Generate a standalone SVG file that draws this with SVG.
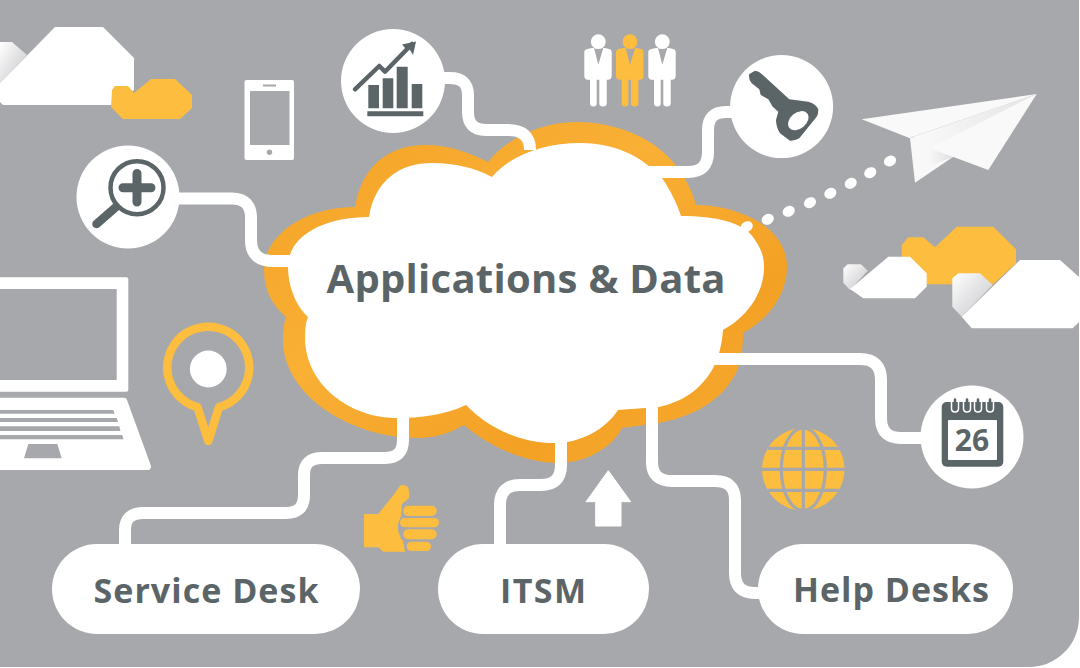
<svg xmlns="http://www.w3.org/2000/svg" xmlns:xlink="http://www.w3.org/1999/xlink" width="1080" height="668" viewBox="0 0 1080 668">
<style>
.w{fill:#fff}.g{fill:#a7a8ab}.y{fill:#fdbd3f}.d{fill:#5b6568}
.c{fill:none;stroke:#fff;stroke-width:12}
.dl{fill:none;stroke:#5b6568;stroke-linecap:round}
.t{font-family:"Open Sans","DejaVu Sans",sans-serif;font-weight:700;fill:#5b6568;text-anchor:middle}
</style>
<defs>
<linearGradient id="og" x1="0" y1="0" x2="1" y2="1"><stop offset="0" stop-color="#f3a125"/><stop offset=".4" stop-color="#f9b035"/><stop offset=".72" stop-color="#f3a125"/><stop offset="1" stop-color="#f8ae33"/></linearGradient>
<linearGradient id="sh" x1="0" y1="0" x2="1" y2="1"><stop offset="0" stop-color="#fff"/><stop offset="1" stop-color="#c4c5c8"/></linearGradient>
<linearGradient id="sh2" x1="0" y1="0" x2="1" y2="0"><stop offset="0" stop-color="#fbfbfb"/><stop offset="1" stop-color="#dedfe1"/></linearGradient>
<g id="person">
<path d="M584.3,52Q584.3,49.7 586.5,49.2L591.7,48H594L598.3,64.7 603.3,48H605L610,49.2Q611.7,49.7 611.7,52V76Q611.7,79.7 608,79.7H606.7V103.5Q606.7,106.5 603,106.5 599.3,106.5 599.3,103.5V79.7H596.7V103.5Q596.7,106.5 593.3,106.5 590,106.5 590,103.5V79.7H588Q584.3,79.7 584.3,76Z"/>
<circle cx="598.3" cy="41.7" r="7.4"/>
</g>
</defs>
<rect width="1080" height="668" class="w"/>
<path class="g" d="M0,0H1079V617A50,50 0 0 1 1029,667H0Z"/>

<g id="cloud-top-left">
<path fill="url(#sh)" d="M0,42H12L27,55 0,83Z"/>
<path class="w" d="M55,27H103L134,58V90L112,105H3L0,102V83Z"/>
<path class="y" d="M112,90 115,86H128L134,93 151,79H175L192,95V108L180,119H123L111,107Z"/>
</g>
<g id="cloud-right">
<path class="y" d="M901.7,245 908.3,237.3H923.3L935,247.3 956.7,226.7H993.3L1016,249.3V263.3L993.3,284.3H925L901.7,255Z"/>
<path fill="url(#sh)" d="M843.3,268.3 847.7,264.3H861L867.7,270.7 850,290 843.3,282.7Z"/>
<path class="w" d="M888.3,256.7H910L926.7,273.3V286.7L915,298.3H863.3L850,289Z"/>
<path fill="url(#sh)" d="M952.3,278.3 958.3,273.3H980L992.7,285 961.7,316.7 952.3,306.7Z"/>
<path class="w" d="M1020,260H1060L1079,277V322L1072.7,328.3H971.7L961.7,316.7Z"/>
</g>

<g id="cloud">
<path fill="url(#og)" d="M355,207C362,165 390,145 425,145C450,145 470,153 488,162C505,140 540,122 576,122C620,122 655,140 674,163C685,177 692,190 696,205C735,205 787,225 787,267C787,295 768,320 743,333C743,345 742,360 736,373C722,400 695,416 659,423L622,428C612,448 585,463 559,463C525,463 490,447 464,425C450,433 435,438 418,438C350,438 283,395 283,340C283,330 284,323 286,317C272,305 264,290 264,270C264,235 305,207 355,207Z"/>
</g>

<g id="connectors">
<path class="c" d="M178,198.5H232Q251,198.5 251,218V240Q251,261 273,261H300"/>
<path class="c" d="M440,78H450Q468,78 468,95V112Q468,130 486,130H508Q530,130 530,150"/>
<path class="c" d="M735,112H726Q708,112 708,130V152Q708,172 688,172H640"/>
<path class="c" d="M715,359H860Q881,359 881,380V418Q881,438 901,438H930"/>
<path class="c" d="M403,410V440Q403,458 385,458H322Q304,458 304,475V495Q304,513 286,513H143Q125,513 125,530V550"/>
<path class="c" d="M561,410V465Q561,485 541,485H520Q500,485 500,505V550"/>
<path class="c" d="M652,400V462Q652,481 672,481H715Q735,481 735,500V573Q735,593 755,593H775"/>
</g>

<g id="cloud-center">
<path class="w" d="M369,217C375,180 400,163 432,163C455,163 475,168 492,177C510,155 545,143 580,143C620,143 645,160 662,178C670,190 677,203 681,216C715,216 745,222 755,240C762,250 764,258 764,267C764,295 745,318 723,330C722,345 718,360 712,370C698,393 680,402 659,407L618,410C605,430 580,443 555,443C520,443 488,428 466,405C445,415 420,418 397,418C350,418 305,385 305,337C305,328 306,322 308,317C295,305 288,285 288,267C288,235 325,217 369,217Z"/>
<text class="t" x="526" y="293" font-size="40" textLength="399" lengthAdjust="spacing">Applications &amp; Data</text>
</g>

<g id="dots" class="w">
<ellipse cx="890" cy="161" rx="6.3" ry="5.2" transform="rotate(-28 890 161)"/>
<ellipse cx="870.3" cy="172.7" rx="6.3" ry="5.2" transform="rotate(-28 870.3 172.7)"/>
<ellipse cx="850.7" cy="183.3" rx="6.3" ry="5.2" transform="rotate(-28 850.7 183.3)"/>
<ellipse cx="830.3" cy="193.3" rx="6.3" ry="5.2" transform="rotate(-28 830.3 193.3)"/>
<ellipse cx="810" cy="202.7" rx="6.3" ry="5.2" transform="rotate(-28 810 202.7)"/>
<ellipse cx="788.7" cy="211.3" rx="6.3" ry="5.2" transform="rotate(-28 788.7 211.3)"/>
<ellipse cx="767.7" cy="219.3" rx="6.3" ry="5.2" transform="rotate(-28 767.7 219.3)"/>
<ellipse cx="746.7" cy="226.7" rx="6.3" ry="5.2" transform="rotate(-28 746.7 226.7)"/>
</g>

<g id="plane">
<path fill="#f9f9f9" d="M861.7,119.3 1036.7,94 913,136.7 910,138.3Z"/>
<path fill="#f8f8f8" d="M910,138.3 1036.7,94 953.3,156.7 915,182.7Z"/>
<path fill="url(#sh2)" d="M930,148.3 953.3,156.7 925,168Z"/>
<path fill="url(#sh2)" d="M913,136.7 1036.7,94 930,148.3Z" opacity=".8"/>
<path fill="#f9f9f9" d="M930,148.3 1036.7,94 988.3,170Z"/>
</g>

<g id="phone">
<rect class="w" x="244.5" y="80" width="49.5" height="80" rx="2"/>
<rect class="g" x="250" y="91" width="39.5" height="54"/>
<rect class="g" x="263" y="84.5" width="13" height="2"/>
<circle class="g" cx="269.5" cy="152.3" r="2.7"/>
</g>

<g id="search">
<circle class="w" cx="128" cy="197" r="51.5"/>
<circle cx="137" cy="187.7" r="26.5" fill="none" stroke="#5b6568" stroke-width="4.5"/>
<path class="dl" stroke-width="9" d="M123,187.7H151M137,173.5V202"/>
<path class="dl" stroke-width="8.5" d="M116,207 96.5,224"/>
</g>

<g id="chart">
<circle class="w" cx="393" cy="81" r="52"/>
<path class="d" d="M368.3,85H379V108.3H368.3ZM382.7,78.3H393.3V108.3H382.7ZM396.7,66.7H407.7V108.3H396.7ZM411.7,84H422.3V108.3H411.7ZM367.3,111.3H423.3V116.3H367.3Z"/>
<path class="dl" stroke-width="4.5" stroke-linejoin="round" fill="none" d="M355,89.3 379.3,66 385,71.7 412,44"/>
<path class="d" d="M416,41.5 402,44.5 405,48 410,50 413,55Z"/>
</g>

<g id="people">
<use xlink:href="#person" href="#person" fill="#fff"/>
<use xlink:href="#person" href="#person" x="31.7" fill="#fdbd3f"/>
<use xlink:href="#person" href="#person" x="64" fill="#fff"/>
</g>

<g id="key">
<circle class="w" cx="781.6" cy="106.6" r="51.5"/>
<path class="d" d="M749.3,74 755,70.7Q759,71 761.7,74L789.3,99.3 808.3,101.7Q816,104 818.3,109.3 818.5,114 816.7,116.7L799.3,138.3Q795,141 790,140.7L780,133.3Q776,127 776,120L778.3,111.7 772.7,106.7 768.3,99.3 760.7,95 759.3,89.3 751.7,83.3Q748,79 749.3,74Z"/>
<ellipse class="w" cx="798.3" cy="120.7" rx="11.5" ry="8" transform="rotate(-40 798.3 120.7)"/>
</g>

<g id="laptop">
<rect class="w" x="-10" y="277.3" width="138.3" height="114.4" rx="2"/>
<rect class="g" x="-10" y="289" width="126.7" height="91"/>
<path class="w" d="M0,397.7H124Q126.5,397.7 127,400L151,466Q151,470 148,470H0Z"/>
<path class="g" d="M0,410H113.3L114.5,413.7H0ZM0,418H116.7L118,422H0ZM0,426.3H119.3L120.5,431H0ZM0,435H122.3L123.5,439.3H0ZM28.3,444H57.3L61.7,458.3H24Z"/>
</g>

<g id="pin">
<path d="M197.5,407.2A41,41 0 1 1 219,407.2L208.3,441Z" fill="none" stroke="#fdbd3f" stroke-width="8.5" stroke-linejoin="round"/>
<circle class="w" cx="208.3" cy="369" r="18.4"/>
</g>

<g id="thumb" class="y">
<path d="M364,514H378.3L395,493 400,485.5Q406,484 408.3,488 410,494 409,498L402,504 401,516 398,524V530L401,539 403,541 405,551.7H383.3L378.3,547.3H364Z"/>
<rect x="403.3" y="505.7" width="33.4" height="10.3" rx="5.1"/>
<rect x="400" y="518" width="39" height="9.3" rx="4.6"/>
<rect x="403.3" y="529.3" width="33.4" height="10" rx="5"/>
<rect x="406.7" y="541.7" width="24.3" height="9.3" rx="4.6"/>
</g>

<g id="arrow-up">
<path class="w" d="M608.3,470.7 630.7,501.7H621V526H595.7V501.7H586Z" stroke="#fff" stroke-width="1" stroke-linejoin="round"/>
</g>

<g id="globe">
<circle class="y" cx="803.3" cy="469.3" r="41.3"/>
<g fill="none" stroke="#a7a8ab" stroke-width="3.2">
<ellipse cx="803.3" cy="469.3" rx="22" ry="41.3"/>
<path d="M803.3,428V511M762,469.3H845M768,448.3H839M768,490.3H839"/>
</g>
</g>

<g id="calendar">
<circle class="w" cx="972" cy="437" r="51.5"/>
<rect class="d" x="941.7" y="402" width="61.6" height="64.7" rx="5"/>
<rect class="w" x="948" y="420" width="49" height="40" rx="1"/>
<path fill="none" stroke="#fff" stroke-width="1.5" d="M951.5,402V408.5Q951.5,412 955,412 958.5,412 958.5,408.5V402M963.5,402V408.5Q963.5,412 967,412 970.5,412 970.5,408.5V402M974.5,402V408.5Q974.5,412 978,412 981.5,412 981.5,408.5V402M986.5,402V408.5Q986.5,412 990,412 993.5,412 993.5,408.5V402"/>
<path class="dl" stroke-width="2.6" d="M955,399.5V408M967,399.5V408M978,399.5V408M990,399.5V408"/>
<text class="t" x="972" y="450.5" font-size="30">26</text>
</g>

<g id="service-desk">
<rect class="w" x="52" y="544" width="308" height="90" rx="45"/>
<text class="t" x="206" y="603" font-size="34" textLength="225" lengthAdjust="spacing">Service Desk</text>
</g>
<g id="itsm">
<rect class="w" x="438" y="544" width="211" height="90" rx="45"/>
<text class="t" x="543" y="603" font-size="34" textLength="86" lengthAdjust="spacing">ITSM</text>
</g>
<g id="help-desks">
<rect class="w" x="758" y="544" width="255" height="90" rx="45"/>
<text class="t" x="891" y="602" font-size="34" textLength="196" lengthAdjust="spacing">Help Desks</text>
</g>
</svg>
